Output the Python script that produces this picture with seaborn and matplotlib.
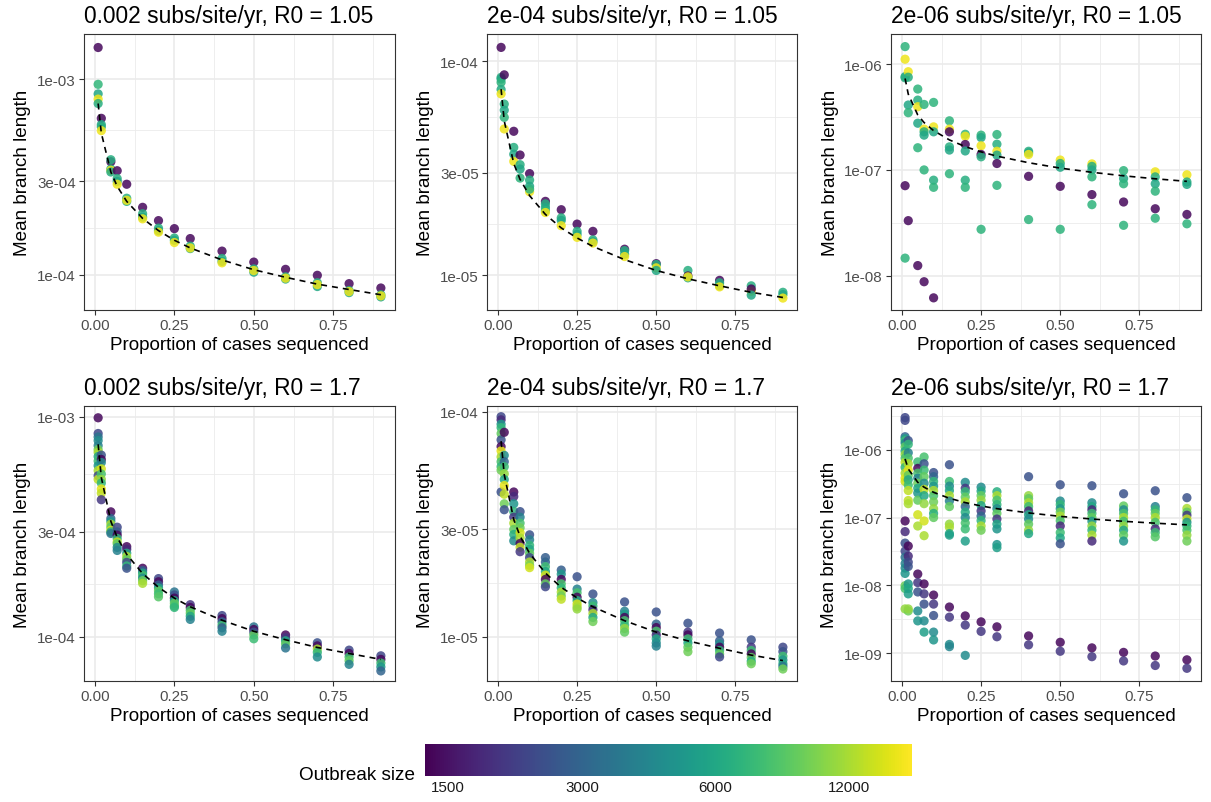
import numpy as np
import pandas as pd
import matplotlib
matplotlib.use("Agg")
import matplotlib.pyplot as plt
import seaborn as sns
from matplotlib.colors import LogNorm
from matplotlib.ticker import FixedLocator, FixedFormatter, NullLocator
import matplotlib as mpl

# ---------------- data ----------------
props = [0.01, 0.02, 0.05, 0.07, 0.1, 0.15, 0.2, 0.25, 0.3, 0.4, 0.5, 0.6, 0.7, 0.8, 0.9]

# fitted (dashed) curves, read at each proportion
fit_002 = [7.5e-4, 5.3e-4, 3.35e-4, 2.83e-4, 2.37e-4, 1.94e-4, 1.68e-4, 1.5e-4, 1.37e-4,
           1.19e-4, 1.06e-4, 9.7e-5, 8.95e-5, 8.4e-5, 7.9e-5]
fit_2e4 = [7.4e-5, 5.25e-5, 3.32e-5, 2.8e-5, 2.35e-5, 1.92e-5, 1.66e-5, 1.49e-5, 1.36e-5,
           1.18e-5, 1.05e-5, 9.6e-6, 8.9e-6, 8.3e-6, 7.85e-6]
fit_2e6 = [7.3e-7, 5.2e-7, 3.3e-7, 2.8e-7, 2.35e-7, 1.92e-7, 1.66e-7, 1.48e-7, 1.35e-7,
           1.17e-7, 1.04e-7, 9.5e-8, 8.8e-8, 8.25e-8, 7.8e-8]

# Panel 1: 0.002, R0 = 1.05
p1_bl = [[1.45e-3, 9.4e-4, 8.4e-4, 7.9e-4, 7.5e-4],
         [6.3e-4, 5.85e-4, 5.7e-4, 5.45e-4],
         [3.78e-4, 3.87e-4, 3.47e-4, 3.42e-4, 3.35e-4],
         [3.4e-4, 3.1e-4, 3.0e-4, 2.9e-4],
         [2.9e-4, 2.46e-4, 2.37e-4, 2.4e-4],
         [2.21e-4, 2.05e-4, 1.97e-4, 1.93e-4],
         [1.89e-4, 1.73e-4, 1.68e-4, 1.65e-4],
         [1.72e-4, 1.54e-4, 1.5e-4, 1.46e-4],
         [1.53e-4, 1.4e-4, 1.36e-4, 1.37e-4],
         [1.32e-4, 1.21e-4, 1.17e-4, 1.15e-4],
         [1.16e-4, 1.07e-4, 1.03e-4, 1.05e-4],
         [1.065e-4, 9.75e-5, 9.5e-5, 9.6e-5],
         [9.93e-5, 9.1e-5, 8.7e-5, 8.9e-5],
         [9.0e-5, 8.3e-5, 8.1e-5, 8.2e-5],
         [8.55e-5, 7.9e-5, 7.7e-5, 7.8e-5]]
p1_size = [[1400, 7000, 6000, 15500, 6500],
           [1400, 6000, 6500, 15500],
           [1400, 6500, 6000, 15500, 6200],
           [1400, 6500, 6000, 15500],
           [1400, 6500, 6000, 15500],
           [1400, 6500, 6000, 15500],
           [1400, 6500, 6000, 15500],
           [1400, 6500, 6000, 15500],
           [1400, 6500, 6000, 15500],
           [1400, 6500, 6000, 15500],
           [1400, 6500, 6000, 15500],
           [1400, 6500, 6000, 15500],
           [1400, 6500, 6000, 15500],
           [1400, 6500, 6000, 15500],
           [1400, 6500, 6000, 15500]]

# Panel 2: 2e-04, R0 = 1.05
p2_bl = [[1.16e-4, 8.4e-5, 8.25e-5, 7.96e-5, 7.37e-5, 7.03e-5],
         [8.63e-5, 6.3e-5, 5.9e-5, 5.46e-5, 4.82e-5],
         [4.7e-5, 3.95e-5, 3.67e-5, 3.4e-5],
         [3.64e-5, 3.28e-5, 3.13e-5, 2.84e-5],
         [2.98e-5, 2.78e-5, 2.6e-5, 2.45e-5, 2.52e-5],
         [2.21e-5, 2.15e-5, 2.07e-5, 2.0e-5, 1.96e-5],
         [2.02e-5, 1.85e-5, 1.8e-5, 1.7e-5],
         [1.73e-5, 1.6e-5, 1.55e-5, 1.5e-5],
         [1.6e-5, 1.46e-5, 1.43e-5, 1.41e-5],
         [1.32e-5, 1.3e-5, 1.25e-5, 1.22e-5],
         [1.13e-5, 1.12e-5, 1.08e-5, 1.05e-5],
         [1.05e-5, 9.9e-6, 9.7e-6, 9.8e-6],
         [9.44e-6, 9.2e-6, 8.9e-6, 8.8e-6],
         [8.9e-6, 8.4e-6, 8.6e-6, 8.05e-6],
         [8.3e-6, 8.1e-6, 7.8e-6]]
p2_size = [[1400, 6500, 6000, 6800, 6200, 15500],
           [1400, 6500, 6000, 6800, 15500],
           [1400, 6500, 6000, 15500],
           [1400, 6500, 6000, 6800],
           [1400, 6500, 6000, 15500, 6800],
           [1400, 6500, 6000, 6800, 15500],
           [1400, 6500, 6000, 15500],
           [1400, 6500, 6000, 15500],
           [1400, 6500, 6000, 15500],
           [1400, 6500, 6000, 15500],
           [1400, 6500, 15500, 6000],
           [6500, 1400, 6000, 15500],
           [1400, 6500, 6000, 15500],
           [6500, 15500, 1400, 6000],
           [6500, 6000, 15500]]

# Panel 3: 2e-06, R0 = 1.05
p3_bl = [[1.46e-6, 1.11e-6, 7.6e-7, 7.4e-7, 7.1e-8, 1.47e-8],
         [8.46e-7, 7.5e-7, 4.1e-7, 3.47e-7, 3.32e-8],
         [5.8e-7, 4.56e-7, 3.95e-7, 2.76e-7, 1.62e-7, 1.25e-8],
         [4.15e-7, 2.43e-7, 2.29e-7, 2.13e-7, 1.0e-7, 8.8e-9],
         [4.34e-7, 2.55e-7, 2.29e-7, 8.0e-8, 6.85e-8, 6.2e-9],
         [2.91e-7, 2.43e-7, 2.29e-7, 1.65e-7, 1.54e-7, 9.2e-8],
         [2.17e-7, 2.08e-7, 1.74e-7, 1.51e-7, 8.0e-8, 6.85e-8],
         [2.13e-7, 2.02e-7, 1.69e-7, 1.4e-7, 1.33e-7, 2.75e-8],
         [2.16e-7, 1.75e-7, 1.5e-7, 1.38e-7, 1.15e-7, 7.15e-8],
         [1.5e-7, 1.45e-7, 1.4e-7, 8.7e-8, 3.4e-8],
         [1.24e-7, 1.15e-7, 1.06e-7, 7.0e-8, 2.75e-8],
         [1.14e-7, 1.08e-7, 1.0e-7, 8.6e-8, 5.85e-8, 4.7e-8],
         [9.85e-8, 8.3e-8, 7.4e-8, 4.98e-8, 3.0e-8],
         [9.6e-8, 8.6e-8, 7.4e-8, 6.3e-8, 4.3e-8, 3.5e-8],
         [9.0e-8, 7.7e-8, 7.3e-8, 3.8e-8, 3.1e-8]]
p3_size = [[6800, 15500, 6000, 6500, 1400, 6800],
           [15500, 6500, 6000, 6800, 1400],
           [6800, 6500, 15500, 6000, 6800, 1400],
           [6800, 15500, 6500, 6000, 6800, 1400],
           [6800, 15500, 6000, 6500, 6800, 1400],
           [6800, 15500, 1400, 6500, 6000, 6800],
           [6800, 15500, 1400, 6000, 6500, 6800],
           [6800, 6000, 15500, 1400, 6500, 6800],
           [6800, 6500, 15500, 6000, 1400, 6800],
           [6500, 6000, 15500, 1400, 6800],
           [15500, 6500, 6000, 1400, 6800],
           [15500, 6500, 6000, 6800, 1400, 6800],
           [6800, 6000, 6800, 1400, 6800],
           [15500, 6500, 6000, 6800, 1400, 6800],
           [15500, 6500, 6000, 1400, 6800]]

# Panel 4: 0.002, R0 = 1.7
p4_bl = [[9.9e-4, 8.4e-4, 8.1e-4, 7.8e-4, 7.4e-4, 7.1e-4, 6.9e-4, 6.6e-4, 6.3e-4, 6.0e-4, 5.7e-4, 5.4e-4, 5.2e-4],
         [6.7e-4, 6.4e-4, 6.2e-4, 5.8e-4, 5.5e-4, 5.2e-4, 5.0e-4, 4.7e-4, 4.5e-4, 4.2e-4],
         [3.7e-4, 3.45e-4, 3.35e-4, 3.25e-4, 3.15e-4, 3.05e-4, 3.0e-4, 2.95e-4],
         [3.15e-4, 3.0e-4, 2.9e-4, 2.8e-4, 2.7e-4, 2.65e-4, 2.55e-4, 2.47e-4],
         [2.57e-4, 2.5e-4, 2.4e-4, 2.32e-4, 2.25e-4, 2.18e-4, 2.1e-4, 2.05e-4],
         [2.05e-4, 2.0e-4, 1.95e-4, 1.9e-4, 1.85e-4, 1.8e-4, 1.75e-4],
         [1.84e-4, 1.78e-4, 1.72e-4, 1.67e-4, 1.62e-4, 1.57e-4, 1.52e-4],
         [1.6e-4, 1.55e-4, 1.5e-4, 1.46e-4, 1.42e-4, 1.38e-4, 1.36e-4],
         [1.4e-4, 1.36e-4, 1.32e-4, 1.28e-4, 1.24e-4, 1.2e-4],
         [1.25e-4, 1.21e-4, 1.17e-4, 1.13e-4, 1.1e-4, 1.06e-4],
         [1.11e-4, 1.08e-4, 1.05e-4, 1.02e-4, 9.8e-5],
         [1.02e-4, 9.9e-5, 9.6e-5, 9.3e-5, 8.9e-5],
         [9.4e-5, 9.1e-5, 8.8e-5, 8.5e-5, 8.1e-5],
         [8.7e-5, 8.4e-5, 8.1e-5, 7.8e-5, 7.5e-5],
         [8.2e-5, 7.9e-5, 7.6e-5, 7.3e-5, 7.0e-5]]
p4_size = [[1400, 2300, 3500, 4500, 4000, 9500, 12000, 6000, 7500, 5000, 12000, 2300, 13000],
           [2500, 1400, 4500, 14000, 8000, 11000, 7000, 15000, 13000, 2000],
           [1400, 3000, 5000, 12000, 9000, 14000, 7000, 3500],
           [2300, 2800, 1400, 7000, 13000, 9000, 4500, 4000],
           [1400, 1800, 6000, 12000, 9000, 2300, 7000, 2500],
           [1400, 2800, 6000, 8000, 4500, 9500, 12000],
           [2300, 1400, 2800, 6000, 9000, 7500, 8500],
           [3500, 2500, 1400, 6000, 9000, 8000, 7000],
           [2000, 1400, 8000, 9000, 6000, 4000],
           [2300, 1400, 3000, 7500, 2800, 4000],
           [3500, 1400, 2500, 9000, 7500],
           [1400, 2000, 6000, 9000, 3500],
           [2500, 1400, 12000, 7000, 4500],
           [2300, 1400, 7500, 9000, 4000],
           [2300, 1400, 7500, 5000, 3000]]

# Panel 5: 2e-04, R0 = 1.7
p5_bl = [[9.5e-5, 9.2e-5, 8.8e-5, 8.5e-5, 8.0e-5, 7.5e-5, 7.0e-5, 6.7e-5, 6.3e-5, 6.0e-5, 5.7e-5, 5.5e-5, 4.4e-5],
         [8.1e-5, 6.4e-5, 6.0e-5, 5.7e-5, 5.3e-5, 5.0e-5, 4.7e-5, 4.3e-5, 3.9e-5, 3.67e-5],
         [4.4e-5, 4.2e-5, 3.9e-5, 3.6e-5, 3.4e-5, 3.2e-5, 3.0e-5, 2.85e-5, 2.67e-5],
         [3.6e-5, 3.4e-5, 3.2e-5, 3.05e-5, 2.9e-5, 2.75e-5, 2.6e-5, 2.5e-5, 2.39e-5],
         [2.84e-5, 2.7e-5, 2.55e-5, 2.45e-5, 2.35e-5, 2.25e-5, 2.15e-5, 2.08e-5, 2.03e-5],
         [2.25e-5, 2.15e-5, 2.05e-5, 1.95e-5, 1.88e-5, 1.8e-5, 1.72e-5, 1.67e-5],
         [1.98e-5, 1.9e-5, 1.8e-5, 1.72e-5, 1.65e-5, 1.58e-5, 1.52e-5, 1.47e-5],
         [1.85e-5, 1.63e-5, 1.57e-5, 1.5e-5, 1.45e-5, 1.4e-5, 1.36e-5, 1.33e-5],
         [1.55e-5, 1.42e-5, 1.37e-5, 1.32e-5, 1.27e-5, 1.22e-5, 1.17e-5],
         [1.43e-5, 1.3e-5, 1.26e-5, 1.22e-5, 1.18e-5, 1.13e-5, 1.09e-5, 1.05e-5],
         [1.29e-5, 1.14e-5, 1.1e-5, 1.06e-5, 1.02e-5, 9.8e-6, 9.4e-6, 9.1e-6],
         [1.15e-5, 1.05e-5, 1.02e-5, 9.8e-6, 9.4e-6, 9.0e-6, 8.6e-6],
         [1.04e-5, 9.6e-6, 9.3e-6, 9.0e-6, 8.7e-6, 8.4e-6, 8.15e-6],
         [9.7e-6, 9.0e-6, 8.7e-6, 8.4e-6, 8.1e-6, 7.8e-6, 7.6e-6],
         [9.0e-6, 8.6e-6, 8.2e-6, 7.9e-6, 7.6e-6, 7.4e-6, 7.2e-6]]
p5_size = [[2300, 1800, 5000, 7000, 9000, 2500, 1400, 15000, 12000, 8000, 7000, 9500, 2500],
           [1400, 4500, 3000, 7500, 11000, 6000, 15000, 13000, 9500, 2500],
           [1400, 1800, 5000, 7000, 2000, 12000, 9000, 6500, 4500],
           [2500, 4000, 8000, 9500, 14000, 12000, 1400, 13000, 2000],
           [2500, 4000, 7000, 6000, 9000, 2300, 12000, 10000, 14000],
           [2800, 3000, 7500, 6000, 14000, 1400, 9000, 2300],
           [2800, 5000, 1400, 8000, 7000, 12000, 9500, 13000],
           [2500, 4000, 8000, 1400, 6500, 14000, 12000, 11000],
           [2500, 4500, 7500, 1800, 12000, 6000, 9500],
           [2500, 4000, 5500, 1400, 8000, 7000, 11000, 9000],
           [2500, 3000, 1400, 8000, 1800, 6000, 4500, 4000],
           [2500, 2000, 1400, 7500, 6000, 9000, 9500],
           [2500, 2800, 4500, 1400, 7000, 9000, 2300],
           [2500, 2000, 7500, 1400, 9000, 6500, 9500],
           [2300, 2500, 7500, 5000, 6000, 3500, 9500]]

# Panel 6: 2e-06, R0 = 1.7 (upper and lower groups)
p6_bl = [[2.97e-6, 2.7e-6, 1.55e-6, 1.45e-6, 1.35e-6, 1.25e-6, 1.1e-6, 9.5e-7, 8.5e-7, 7.5e-7, 6.5e-7, 5.5e-7, 4.5e-7, 3.8e-7, 3.4e-7,
          8.9e-8, 6.2e-8, 4.2e-8, 3.2e-8, 2.6e-8, 2.1e-8, 1.8e-8, 1.5e-8, 9.9e-9, 9.0e-9, 4.5e-9],
         [1.36e-6, 1.2e-6, 9.0e-7, 7.5e-7, 6.2e-7, 5.0e-7, 4.2e-7, 3.6e-7, 3.0e-7, 2.5e-7, 1.78e-7, 1.6e-7,
          3.8e-8, 2.7e-8, 2.2e-8, 1.9e-8, 1.05e-8, 9.0e-9, 7.5e-9, 4.2e-9, 4.5e-9],
         [6.6e-7, 5.3e-7, 4.5e-7, 3.8e-7, 3.2e-7, 2.7e-7, 2.3e-7, 1.8e-7, 1.1e-7, 7.5e-8,
          1.47e-8, 1.1e-8, 8.0e-9, 4.2e-9, 3.0e-9],
         [7.8e-7, 6.2e-7, 5.0e-7, 4.0e-7, 3.2e-7, 2.6e-7, 2.1e-7, 1.6e-7, 8.9e-8, 5.4e-8,
          1.05e-8, 7.5e-9, 5.3e-9, 3.0e-9, 2.05e-9],
         [4.6e-7, 4.0e-7, 3.4e-7, 2.9e-7, 2.5e-7, 2.1e-7, 1.7e-7, 1.35e-7, 1.15e-7, 1.0e-7,
          7.2e-9, 5.3e-9, 3.6e-9, 2.05e-9, 1.57e-9],
         [6.0e-7, 3.4e-7, 2.9e-7, 2.5e-7, 2.1e-7, 1.75e-7, 1.45e-7, 8.0e-8, 7.2e-8, 5.8e-8, 5.5e-8,
          4.8e-9, 3.4e-9, 1.35e-9, 1.25e-9],
         [3.3e-7, 2.7e-7, 2.4e-7, 2.0e-7, 1.7e-7, 1.45e-7, 1.2e-7, 1.0e-7, 8.3e-8, 6.8e-8, 4.5e-8,
          3.55e-9, 2.6e-9, 9.3e-10],
         [2.8e-7, 2.45e-7, 2.1e-7, 1.8e-7, 1.5e-7, 1.25e-7, 1.05e-7, 9.0e-8, 7.5e-8, 6.5e-8,
          2.9e-9, 2.1e-9],
         [2.4e-7, 2.1e-7, 1.8e-7, 1.55e-7, 1.35e-7, 1.15e-7, 9.5e-8, 8.0e-8, 6.8e-8, 4.0e-8, 3.6e-8,
          2.45e-9, 1.75e-9],
         [4.0e-7, 2.1e-7, 1.9e-7, 1.65e-7, 1.45e-7, 1.25e-7, 1.1e-7, 9.5e-8, 8.0e-8, 6.5e-8, 5.8e-8,
          1.8e-9, 1.33e-9],
         [3.04e-7, 1.75e-7, 1.55e-7, 1.35e-7, 1.2e-7, 1.05e-7, 9.0e-8, 7.5e-8, 6.0e-8, 5.0e-8, 4.1e-8,
          1.45e-9, 1.07e-9],
         [2.94e-7, 1.65e-7, 1.45e-7, 1.3e-7, 1.15e-7, 1.0e-7, 8.8e-8, 7.5e-8, 6.5e-8, 5.5e-8, 4.5e-8,
          1.2e-9, 8.9e-10],
         [2.24e-7, 1.48e-7, 1.3e-7, 1.15e-7, 1.0e-7, 8.8e-8, 7.5e-8, 6.5e-8, 5.5e-8, 4.5e-8,
          1.03e-9, 7.7e-10],
         [2.48e-7, 1.45e-7, 1.3e-7, 1.15e-7, 1.0e-7, 8.5e-8, 6.8e-8, 6.0e-8, 5.2e-8,
          9.1e-10, 6.6e-10],
         [1.96e-7, 1.36e-7, 1.2e-7, 1.08e-7, 9.5e-8, 8.5e-8, 7.5e-8, 6.5e-8, 5.5e-8, 4.5e-8,
          8.0e-10, 6.0e-10]]
p6_size = [[2300, 2300, 3000, 5500, 7500, 4500, 9000, 6000, 11000, 8000, 13000, 7000, 12000, 15000, 14000,
            1400, 1800, 2500, 2300, 3500, 4000, 4500, 5000, 9500, 8000, 11000],
           [2500, 7000, 4000, 8000, 12000, 15000, 9000, 6000, 7500, 13000, 13000, 12000,
            1400, 1800, 2300, 2500, 5000, 6000, 5500, 9500, 11000],
           [7500, 1400, 8000, 4000, 9500, 6000, 5000, 9000, 14000, 12000,
            1400, 2000, 2500, 4500, 5000],
           [8000, 2500, 7500, 9000, 4500, 13000, 6000, 11000, 14000, 12000,
            1400, 2000, 2500, 4500, 5500],
           [2500, 3000, 7000, 5000, 12000, 8000, 9500, 11000, 6500, 9000,
            1400, 2000, 2500, 4500, 5000],
           [2500, 7500, 4500, 6000, 12000, 4000, 9000, 11000, 12000, 6000, 5500,
            1400, 2000, 4500, 4200],
           [4500, 2000, 7000, 9000, 12000, 3000, 6500, 4500, 8000, 7500, 5500,
            1400, 2000, 4500],
           [4500, 6000, 9000, 11000, 6000, 2000, 3000, 7000, 12000, 9500,
            1400, 2000],
           [6500, 12000, 8000, 7000, 4500, 9000, 2000, 6000, 5000, 5000, 5500,
            1400, 2000],
           [2500, 11000, 9000, 12000, 7500, 1800, 6000, 4500, 9000, 11000, 6000,
            1400, 2000],
           [2500, 4500, 7000, 5000, 9500, 12000, 8000, 1800, 7500, 6000, 2500,
            1400, 2000],
           [2500, 4500, 6000, 1800, 7500, 9000, 5000, 11000, 7000, 12000, 1800,
            1400, 2000],
           [2500, 9000, 4500, 8000, 12000, 7500, 11000, 6000, 9000, 5000,
            1400, 2000],
           [2500, 4000, 7000, 9000, 12000, 8000, 1800, 7500, 8500,
            1400, 2000],
           [2500, 12000, 9000, 2000, 13000, 5000, 7000, 8000, 11000, 9500,
            1400, 2000]]

rate_labels = ["0.002", "2e-04", "2e-06"]
r0_labels = ["1.05", "1.7"]
cbar_ticks = [1500, 3000, 6000, 12000]
cbar_labels = ["1500", "3000", "6000", "12000"]
x_ticks = [0.0, 0.25, 0.5, 0.75]
x_tick_labels = ["0.00", "0.25", "0.50", "0.75"]

# ---------------- style ----------------
sns.set_theme(style="white")
plt.rcParams["font.family"] = ["Liberation Sans", "DejaVu Sans"]

W, H = 1211, 803
fig = plt.figure(figsize=(W / 100, H / 100), dpi=100)

norm = LogNorm(vmin=1330, vmax=16600)
cmap = mpl.colormaps["viridis"]


def to_df(bl, sz):
    rows = []
    for p, vals, sizes in zip(props, bl, sz):
        for v, s in zip(vals, sizes):
            rows.append((p, v, s))
    return pd.DataFrame(rows, columns=["prop", "bl", "size"])


panels = [
    dict(bl=p1_bl, sz=p1_size, fit=fit_002, rate=0, r0=0, ylim=(6.6e-5, 1.7e-3),
         yt=[1e-4, 3e-4, 1e-3], ytl=["1e-04", "3e-04", "1e-03"], ym=[1.732e-4, 5.477e-4]),
    dict(bl=p2_bl, sz=p2_size, fit=fit_2e4, rate=1, r0=0, ylim=(6.86e-6, 1.34e-4),
         yt=[1e-5, 3e-5, 1e-4], ytl=["1e-05", "3e-05", "1e-04"], ym=[1.732e-5, 5.477e-5]),
    dict(bl=p3_bl, sz=p3_size, fit=fit_2e6, rate=2, r0=0, ylim=(4.76e-9, 1.92e-6),
         yt=[1e-8, 1e-7, 1e-6], ytl=["1e-08", "1e-07", "1e-06"], ym=[3.162e-8, 3.162e-7]),
    dict(bl=p4_bl, sz=p4_size, fit=fit_002, rate=0, r0=1, ylim=(6.3e-5, 1.12e-3),
         yt=[1e-4, 3e-4, 1e-3], ytl=["1e-04", "3e-04", "1e-03"], ym=[1.732e-4, 5.477e-4]),
    dict(bl=p5_bl, sz=p5_size, fit=fit_2e4, rate=1, r0=1, ylim=(6.37e-6, 1.06e-4),
         yt=[1e-5, 3e-5, 1e-4], ytl=["1e-05", "3e-05", "1e-04"], ym=[1.732e-5, 5.477e-5]),
    dict(bl=p6_bl, sz=p6_size, fit=fit_2e6, rate=2, r0=1, ylim=(3.9e-10, 4.4e-6),
         yt=[1e-9, 1e-8, 1e-7, 1e-6], ytl=["1e-09", "1e-08", "1e-07", "1e-06"],
         ym=[3.162e-9, 3.162e-8, 3.162e-7, 3.162e-6]),
]

col_x = [(84, 395), (487, 797), (891, 1201)]
row_y = [(35, 311), (407, 682)]

grey20 = "#333333"
grey30 = "#4D4D4D"

for pn in panels:
    x0, x1 = col_x[pn["rate"]]
    y0, y1 = row_y[pn["r0"]]
    ax = fig.add_axes([x0 / W, 1 - y1 / H, (x1 - x0) / W, (y1 - y0) / H])
    ax.set_yscale("log")
    ax.set_axisbelow(True)
    df = to_df(pn["bl"], pn["sz"])
    sns.scatterplot(data=df, x="prop", y="bl", hue="size", hue_norm=norm, palette="viridis",
                    s=44, alpha=0.85, linewidth=0, legend=False, ax=ax, zorder=3)
    sns.lineplot(x=props, y=pn["fit"], color="black", lw=1.2, ax=ax, sort=False, zorder=4)
    ax.lines[-1].set_dashes([3.6, 3.0])
    ax.set_xlim(-0.0345, 0.9445)
    ax.set_ylim(*pn["ylim"])
    ax.xaxis.set_major_locator(FixedLocator(x_ticks))
    ax.xaxis.set_major_formatter(FixedFormatter(x_tick_labels))
    ax.xaxis.set_minor_locator(FixedLocator([0.125, 0.375, 0.625, 0.875]))
    ax.yaxis.set_major_locator(FixedLocator(pn["yt"]))
    ax.yaxis.set_major_formatter(FixedFormatter(pn["ytl"]))
    ax.yaxis.set_minor_locator(FixedLocator(pn["ym"]))
    ax.grid(which="major", color="#EBEBEB", lw=1.2)
    ax.grid(which="minor", color="#EBEBEB", lw=0.6)
    ax.tick_params(which="major", direction="out", length=3.4, width=0.8, color=grey20,
                   labelsize=10.9, labelcolor=grey30, pad=2.5, left=True, bottom=True)
    ax.tick_params(which="minor", length=0)
    for sp in ax.spines.values():
        sp.set_color(grey20)
        sp.set_linewidth(0.8)
    ax.set_xlabel("Proportion of cases sequenced", fontsize=13.6, color="black", labelpad=3)
    ax.set_ylabel("Mean branch length", fontsize=13.6, color="black", labelpad=4)
    ax.set_title(f"{rate_labels[pn['rate']]} subs/site/yr, R0 = {r0_labels[pn['r0']]}",
                 loc="left", fontsize=16.4, color="black", pad=8.5)

# colour bar
cax = fig.add_axes([425 / W, 1 - 777 / H, (912 - 425) / W, 32 / H])
sm = mpl.cm.ScalarMappable(norm=norm, cmap=cmap)
cb = fig.colorbar(sm, cax=cax, orientation="horizontal")
cb.outline.set_visible(False)
cb.set_ticks(cbar_ticks)
cb.set_ticklabels(cbar_labels)
cax.xaxis.set_minor_locator(NullLocator())
cax.tick_params(axis="x", which="major", direction="in", length=5, width=0.8, color="white",
                top=True, bottom=True, labelsize=10.9, labelcolor="#1A1A1A", pad=3)
fig.text(415 / W, 1 - 776 / H, "Outbreak size", ha="right", va="center", fontsize=13.6, color="black")

fig.savefig("out.png", dpi=100)
